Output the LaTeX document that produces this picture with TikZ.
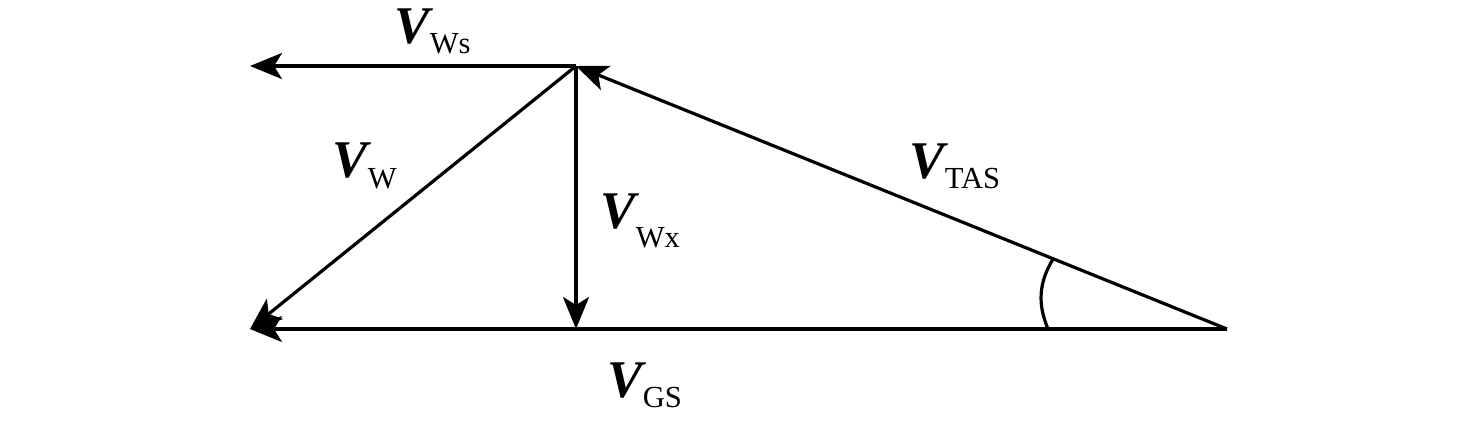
\documentclass[tikz,border=0pt]{standalone}
\usepackage{fontspec}
\setmainfont{Liberation Serif}
\usetikzlibrary{arrows.meta}
\tikzstyle{Pt}=[inner sep=0pt, outer sep=0pt]
\tikzstyle{VecEdge}=[-{Stealth[length=16pt, width=13pt, inset=4pt]}, line width=1.6pt]
\tikzstyle{PlainEdge}=[line width=1.6pt]
\tikzstyle{VecLabel}=[inner sep=0pt, anchor=base west]
\newcommand{\vlab}[2][5pt]{{\fontsize{26.5}{30}\selectfont\bfseries\itshape V}\raisebox{-#1}{\fontsize{15.3}{18}\selectfont #2}}
\tikzset{x=0.5pt, y=0.5pt}
\begin{document}
\begin{tikzpicture}
\useasboundingbox (0,0) rectangle (1476,-424);
\coordinate[Pt](top) at (576,-66);
\coordinate[Pt](wsend) at (250,-66);
\coordinate[Pt](gsend) at (250,-329);
\coordinate[Pt](foot) at (576,-329);
\coordinate[Pt](apex) at (1227,-329);
\coordinate[Pt](angA) at (1048,-329);
\coordinate[Pt](angB) at (1053,-259);

\node[VecLabel](LWs) at (394,-43) {\vlab{Ws}};
\node[VecLabel](LW) at (332,-177) {\vlab[5.5pt]{W}};
\node[VecLabel](LWx) at (600,-228) {\vlab[9.5pt]{Wx}};
\node[VecLabel](LTAS) at (909,-178) {\vlab{TAS}};
\node[VecLabel](LGS) at (607,-397) {\vlab{GS}};

\draw[VecEdge](top) -- (wsend);
\draw[VecEdge](apex) -- (gsend);
\draw[VecEdge](top) -- (gsend);
\draw[VecEdge](top) -- (foot);
\draw[VecEdge](apex) -- (top);
\draw[PlainEdge](angA) to[bend left=27] (angB);
\end{tikzpicture}
\end{document}
